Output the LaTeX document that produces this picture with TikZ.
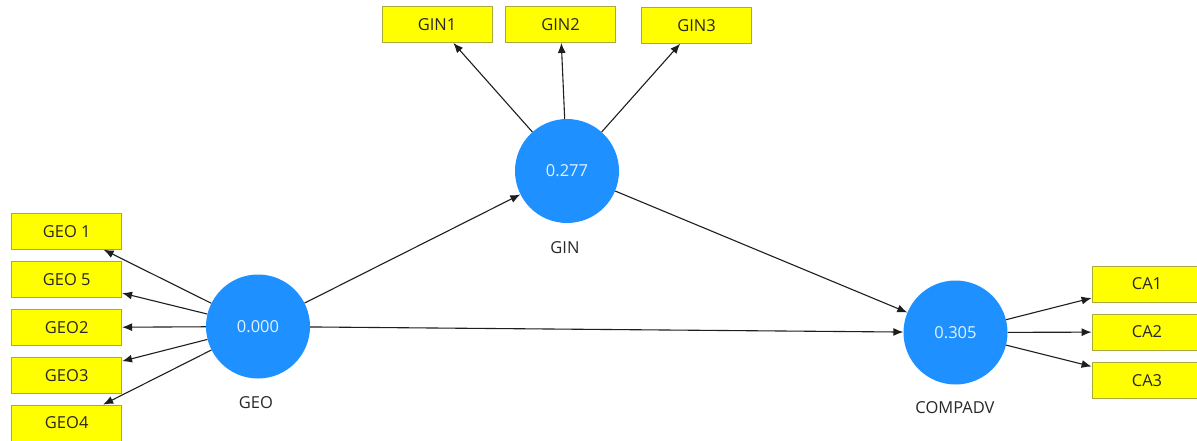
\documentclass[tikz,border=0pt]{standalone}
\usepackage{fontspec}
\setmainfont{Open Sans}
\usetikzlibrary{arrows.meta}
\definecolor{lvblue}{RGB}{30,144,255}
\definecolor{mvyellow}{RGB}{255,255,0}
\definecolor{mvborder}{RGB}{170,170,60}
\definecolor{txtgray}{RGB}{40,40,40}
\definecolor{lvtext}{RGB}{225,242,255}
\definecolor{arrowgray}{RGB}{30,30,30}
\begin{document}
\begin{tikzpicture}[x=1pt,y=-1pt,
  latent/.style={circle,fill=lvblue,draw=none,minimum size=104pt,inner sep=0pt,
    text=lvtext,font=\fontsize{16.5}{19}\selectfont},
  indicator/.style={rectangle,fill=mvyellow,draw=mvborder,line width=0.8pt,
    minimum width=110pt,minimum height=36pt,inner sep=0pt,
    text=txtgray,font=\fontsize{16.5}{19}\selectfont},
  lvlabel/.style={text=txtgray,font=\fontsize{16.5}{19}\selectfont,inner sep=0pt},
  path/.style={draw=arrowgray,line width=1.1pt,-{Latex[length=10pt,width=8pt]}}
]
\useasboundingbox (0,0) rectangle (1197,441);
\fill[white] (0,0) rectangle (1197,441);

% latent variables
\node[latent] (gin) at (567,171) {0.277};
\node[latent] (geo) at (258,326.5) {0.000};
\node[latent] (comp) at (955.5,332.5) {0.305};

\node[lvlabel] (ginlab) at (565,248) {GIN};
\node[lvlabel] (geolab) at (256,403) {GEO};
\node[lvlabel] (complab) at (955,408) {COMPADV};

% indicators
\node[indicator] (gin1) at (437,24.5) {GIN1};
\node[indicator] (gin2) at (560.5,24.5) {GIN2};
\node[indicator] (gin3) at (696.5,25.3) {GIN3};

\node[indicator] (geo1) at (66.7,231.3) {GEO 1};
\node[indicator] (geo5) at (66.7,279.5) {GEO 5};
\node[indicator] (geo2) at (66.7,327.5) {GEO2};
\node[indicator] (geo3) at (66.7,375.3) {GEO3};
\node[indicator] (geo4) at (66.7,423) {GEO4};

\node[indicator] (ca1) at (1147,284) {CA1};
\node[indicator] (ca2) at (1147,332) {CA2};
\node[indicator] (ca3) at (1147,380.3) {CA3};

% outer model
\draw[path] (gin) -- (gin1);
\draw[path] (gin) -- (gin2);
\draw[path] (gin) -- (gin3);

\draw[path] (geo) -- (geo1);
\draw[path] (geo) -- (geo5);
\draw[path] (geo) -- (geo2);
\draw[path] (geo) -- (geo3);
\draw[path] (geo) -- (geo4);

\draw[path] (comp) -- (ca1);
\draw[path] (comp) -- (ca2);
\draw[path] (comp) -- (ca3);

% inner model
\draw[path] (geo) -- (gin);
\draw[path] (geo) -- (comp);
\draw[path] (gin) -- (comp);
\end{tikzpicture}
\end{document}
